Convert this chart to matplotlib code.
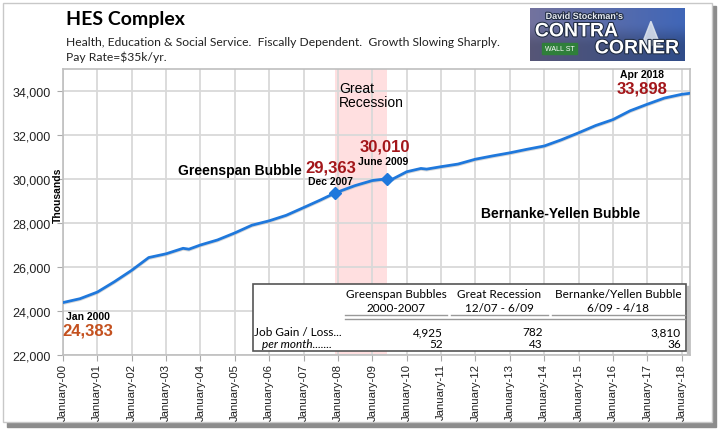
import matplotlib
matplotlib.use("Agg")
import matplotlib.pyplot as plt
import matplotlib.dates as mdates
import matplotlib.patheffects as pe
from matplotlib.patches import Rectangle
import numpy as np
import pandas as pd

# === DADOS (milhares de empregos) ===
datas = ["2000-01", "2000-07", "2001-01", "2001-07", "2002-01", "2002-07",
         "2003-01", "2003-07", "2003-09", "2004-01", "2004-07", "2005-01",
         "2005-07", "2006-01", "2006-07", "2007-01", "2007-07", "2007-12",
         "2008-07", "2009-01", "2009-06", "2009-08", "2010-01", "2010-06",
         "2010-08", "2011-01", "2011-07", "2012-01", "2012-07", "2013-01",
         "2013-07", "2014-01", "2014-07", "2015-01", "2015-07", "2016-01",
         "2016-07", "2017-01", "2017-07", "2018-01", "2018-04"]
valores = [24383, 24560, 24860, 25330, 25850, 26430,
           26600, 26850, 26810, 27000, 27230, 27550,
           27900, 28100, 28350, 28700, 29050, 29363,
           29700, 29930, 30010, 29990, 30330, 30480,
           30450, 30560, 30680, 30900, 31050, 31190,
           31350, 31500, 31780, 32100, 32430, 32700,
           33100, 33400, 33680, 33850, 33898]

recessao = ("2007-12", "2009-06")
marcos = ["2007-12", "2009-06"]

tabela_cab = [("Greenspan Bubbles", "2000-2007"),
              ("Great Recession", "12/07 - 6/09"),
              ("Bernanke/Yellen Bubble", "6/09 - 4/18")]
ganho_total = ["4,925", "782", "3,810"]
ganho_mes = ["52", "43", "36"]

# === CORES / FONTES ===
AZUL = "#1f78dc"
VERMELHO = "#a3161a"
LARANJA = "#c4511f"
GRADE = "#d9d9d9"
CAL = "Lato"
ARIAL = "Liberation Sans"

W, H = 722, 435
fig = plt.figure(figsize=(W / 100, H / 100), dpi=100)

def fx(px):
    return px / W

def fy(py):
    return 1 - py / H

# moldura com sombra
fig.patches.append(Rectangle((fx(7), fy(428)), fx(709) - fx(0), fy(0) - fy(421),
                             transform=fig.transFigure, color="#8c8c8c", zorder=-3))
fig.patches.append(Rectangle((fx(3), fy(423)), fx(709) - fx(0), fy(0) - fy(419),
                             transform=fig.transFigure, facecolor="white",
                             edgecolor="#c8c8c8", lw=1, zorder=-2))

ax = fig.add_axes([fx(62.9), fy(356), fx(690.2) - fx(62.9), fy(70) - fy(356)])

x = pd.to_datetime(datas)
ax.axvspan(pd.Timestamp(recessao[0]), pd.Timestamp(recessao[1]), color="#ffdfe0", zorder=0, lw=0)
ax.plot(x, np.array(valores) - 45, color="#bdbdbd", lw=2.0, alpha=0.6, zorder=2)
ax.plot(x, valores, color=AZUL, lw=2.0, zorder=3)
for m in marcos:
    i = datas.index(m)
    ax.plot(x[i], valores[i], marker="D", ms=6, color=AZUL, zorder=4)

ax.set_xlim(pd.Timestamp("2000-01-01"), pd.Timestamp("2018-04-01"))
ax.set_ylim(22000, 35000)
ax.set_yticks(range(22000, 34001, 2000))
ax.yaxis.set_major_formatter(matplotlib.ticker.FuncFormatter(lambda v, p: f"{int(v):,}"))
ax.xaxis.set_major_locator(mdates.YearLocator())
ax.xaxis.set_major_formatter(mdates.DateFormatter("%B-%y"))
for lab in ax.get_xticklabels():
    lab.set_rotation(90)
ax.tick_params(axis="x", labelsize=8.2, length=4, color="#aaaaaa", pad=2)
ax.tick_params(axis="y", labelsize=9, length=4, color="#aaaaaa", pad=5)
for lab in ax.get_xticklabels() + ax.get_yticklabels():
    lab.set_fontfamily(ARIAL)
    lab.set_color("#222222")
ax.grid(True, color=GRADE, lw=1.3)
ax.set_axisbelow(True)
for s in ax.spines.values():
    s.set_color("#bfbfbf")
    s.set_linewidth(1.2)

# === TEXTOS ===
fig.text(fx(66), fy(20), "HES Complex", fontsize=14, fontweight="bold", family=CAL, va="center")
fig.text(fx(66), fy(42), "Health, Education & Social Service.  Fiscally Dependent.  Growth Slowing Sharply.",
         fontsize=8.7, family=CAL, va="center", color="#222222")
fig.text(fx(66), fy(57), "Pay Rate=$35k/yr.", fontsize=8.7, family=CAL, va="center", color="#222222")
fig.text(fx(58), fy(195), "Thousands", rotation=90, fontsize=7.5, fontweight="bold",
         family=ARIAL, ha="center", va="center")

def txt(px, py, s, **kw):
    base = dict(family=ARIAL, ha="center", va="center", fontweight="bold")
    base.update(kw)
    fig.text(fx(px), fy(py), s, **base)

txt(240, 171, "Greenspan Bubble", fontsize=10)
txt(331, 168, "29,363", fontsize=12, color=VERMELHO)
txt(331, 182, "Dec 2007", fontsize=7.5)
txt(385, 147, "30,010", fontsize=12, color=VERMELHO)
txt(383, 162, "June 2009", fontsize=7.5)
txt(339, 96, "Great\nRecession", fontsize=10, fontweight="normal", ha="left",
    multialignment="left", linespacing=1.05)
txt(642, 75, "Apr 2018", fontsize=7.5)
txt(642, 89, "33,898", fontsize=12, color=VERMELHO)
txt(561, 214, "Bernanke-Yellen Bubble", fontsize=10)
txt(88, 317, "Jan 2000", fontsize=7.5)
txt(88, 331, "24,383", fontsize=12, color=LARANJA)

# === TABELA ===
fig.patches.append(Rectangle((fx(253), fy(352)), fx(686) - fx(253), fy(285) - fy(352),
                             transform=fig.transFigure, facecolor="white",
                             edgecolor="#555555", lw=1.2, zorder=5))
fig.patches.append(Rectangle((fx(687), fy(354)), fx(2), fy(287) - fy(354),
                             transform=fig.transFigure, color="#c0c0c0", zorder=4))
centros = [396, 499, 618]
direita = [443, 543, 681]
seg = [(345, 447), (451, 548), (552, 685)]
for c, (l1, l2), (a, b) in zip(centros, tabela_cab, seg):
    fig.text(fx(c), fy(294), l1, fontsize=8.5, family=CAL, ha="center", va="center", zorder=6)
    fig.text(fx(c), fy(309), l2, fontsize=8.5, family=CAL, ha="center", va="center", zorder=6)
    fig.add_artist(plt.Line2D([fx(a), fx(b)], [fy(316), fy(316)], color="#999999", lw=1, zorder=6))
fig.add_artist(plt.Line2D([fx(345), fx(685)], [fy(319.5), fy(319.5)], color="#999999", lw=1, zorder=6))
fig.text(fx(254), fy(333), "Job Gain / Loss...", fontsize=8.5, family=CAL, va="center", zorder=6)
fig.text(fx(262), fy(345), "per month.......", fontsize=8.5, family=CAL, style="italic", va="center", zorder=6)
for r, t, m in zip(direita, ganho_total, ganho_mes):
    fig.text(fx(r), fy(333), t, fontsize=8.5, family=CAL, ha="right", va="center", zorder=6)
    fig.text(fx(r), fy(345), m, fontsize=8.5, family=CAL, ha="right", va="center", zorder=6)

# === LOGO (aproximado) ===
lax = fig.add_axes([fx(530), fy(62), fx(685) - fx(530), fy(9) - fy(62)])
grad = np.linspace(0, 1, 200)
cores = np.zeros((2, 200, 3))
cores[:, :, 0] = 0.45 - 0.2 * grad
cores[:, :, 1] = 0.45 - 0.05 * grad
cores[:, :, 2] = 0.62 + 0.1 * grad
cores[1] *= 0.75
lax.imshow(cores, aspect="auto", extent=[0, 1, 0, 1])
lax.add_patch(plt.Polygon([[0.72, 0.3], [0.78, 0.75], [0.84, 0.3]], color="#dfe6ef", alpha=0.85))
lax.add_patch(Rectangle((0.08, 0.14), 0.22, 0.2, color="#2f7f3a"))
lax.text(0.19, 0.24, "WALL ST", color="white", fontsize=5, ha="center", va="center", family=ARIAL)
contorno = [pe.withStroke(linewidth=1.5, foreground="#1e2a40")]
lax.text(0.35, 0.84, "David Stockman's", color="#e8ecf2", fontsize=6.5, fontweight="bold",
         ha="center", va="center", family=ARIAL, path_effects=contorno)
lax.text(0.3, 0.55, "CONTRA", color="white", fontsize=14, fontweight="bold",
         ha="center", va="center", family=ARIAL, path_effects=contorno)
lax.text(0.69, 0.23, "CORNER", color="white", fontsize=14, fontweight="bold",
         ha="center", va="center", family=ARIAL, path_effects=contorno)
lax.set_xlim(0, 1)
lax.set_ylim(0, 1)
lax.axis("off")

fig.savefig("out.png", dpi=100)
